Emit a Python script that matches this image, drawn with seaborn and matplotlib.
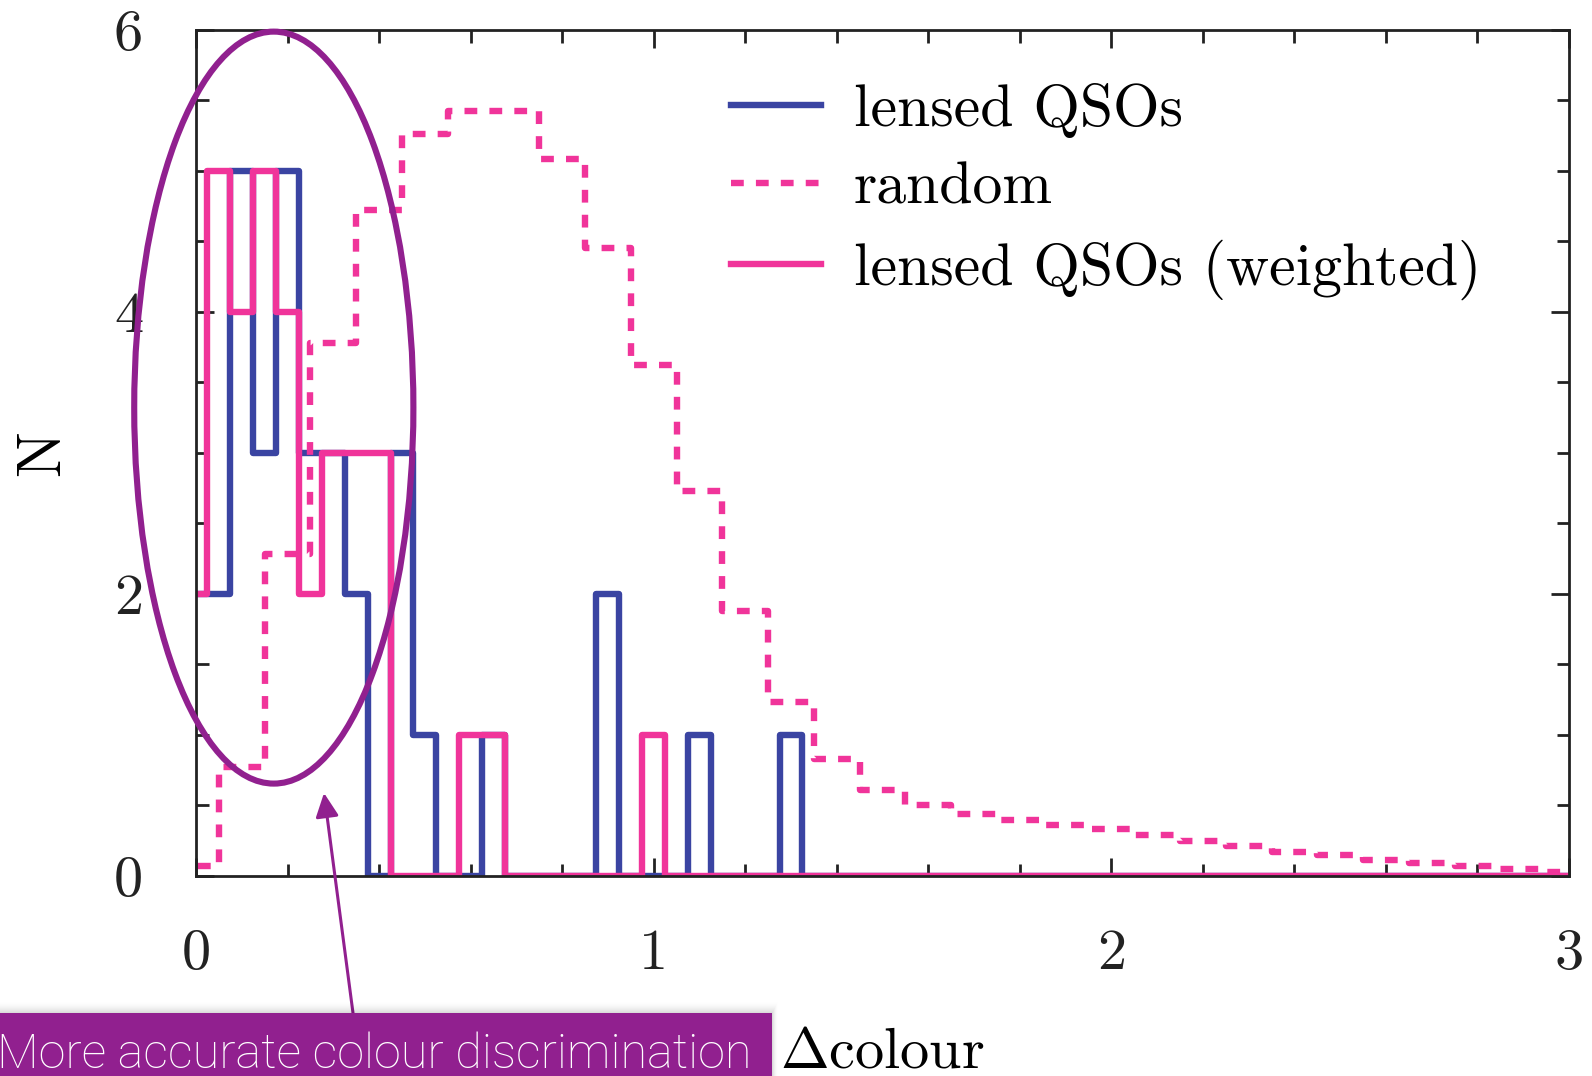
import numpy as np
import pandas as pd
import matplotlib
matplotlib.use("Agg")
import matplotlib.pyplot as plt
from matplotlib.patches import Ellipse, Rectangle
import seaborn as sns

# Histogram values (bin centres and counts)
lensed_centres = [0.00, 0.05, 0.10, 0.15, 0.20, 0.25, 0.30, 0.35, 0.45, 0.50,
                  0.65, 0.90, 1.10, 1.30]
lensed_counts = [2, 2, 5, 3, 5, 3, 3, 2, 3, 1, 1, 2, 1, 1]

weighted_centres = [0.00, 0.05, 0.10, 0.15, 0.20, 0.25, 0.30, 0.35, 0.40,
                    0.60, 0.65, 1.00]
weighted_counts = [2, 5, 4, 5, 4, 2, 3, 3, 3, 1, 1, 1]

random_centres = [0.0, 0.1, 0.2, 0.3, 0.4, 0.5, 0.6, 0.7, 0.8, 0.9, 1.0,
                  1.1, 1.2, 1.3, 1.4, 1.5, 1.6, 1.7, 1.8, 1.9, 2.0,
                  2.1, 2.2, 2.3, 2.4, 2.5, 2.6, 2.7, 2.8, 2.9, 3.0]
random_counts = [0.07, 0.77, 2.28, 3.78, 4.72, 5.26, 5.42, 5.42, 5.08, 4.45, 3.62,
                 2.73, 1.88, 1.23, 0.83, 0.61, 0.50, 0.44, 0.40, 0.36, 0.33,
                 0.29, 0.25, 0.21, 0.17, 0.15, 0.11, 0.09, 0.07, 0.05, 0.03]

labels = ["lensed QSOs", "random", "lensed QSOs (weighted)"]
x_ticks = [0, 1, 2, 3]
y_ticks = [0, 2, 4, 6]

BLUE = "#3A44A2"
PINK = "#F0349A"
PURPLE = "#91208F"

plt.rcParams["font.family"] = "cmr10"
plt.rcParams["mathtext.fontset"] = "cm"
plt.rcParams["axes.formatter.use_mathtext"] = True
plt.rcParams["axes.unicode_minus"] = False

lensed = pd.DataFrame({"dc": lensed_centres, "n": lensed_counts})
weighted = pd.DataFrame({"dc": weighted_centres, "n": weighted_counts})
random_df = pd.DataFrame({"dc": random_centres, "n": random_counts})

W, H = 1592, 1076
fig = plt.figure(figsize=(W / 100, H / 100), dpi=100)
ax = fig.add_axes([196 / W, 1 - 876 / H, (1569 - 196) / W, (876 - 29.5) / H])

lw = 4.6
fine_edges = [round(-0.025 + 0.05 * i, 3) for i in range(62)]
coarse_edges = [round(-0.05 + 0.1 * i, 3) for i in range(32)]

sns.histplot(data=lensed, x="dc", weights="n", bins=fine_edges,
             element="step", fill=False, color=BLUE, linewidth=lw,
             label=labels[0], ax=ax)
sns.histplot(data=random_df, x="dc", weights="n", bins=coarse_edges,
             element="step", fill=False, color=PINK, linewidth=lw,
             linestyle=(0, (2.0, 1.9)), label=labels[1], ax=ax)
sns.histplot(data=weighted, x="dc", weights="n", bins=fine_edges,
             element="step", fill=False, color=PINK, linewidth=lw,
             label=labels[2], ax=ax)

ax.set_xlim(0, 3)
ax.set_ylim(0, 6)
ax.set_xticks(x_ticks, labels=[str(t) for t in x_ticks])
ax.set_yticks(y_ticks, labels=[str(t) for t in y_ticks])
ax.set_xticks(np.arange(0, 3.01, 0.2), minor=True)
ax.set_yticks(np.arange(0, 6.01, 0.5), minor=True)
ax.tick_params(which="both", direction="in", top=True, right=True,
               width=2.0, colors="#222222")
ax.tick_params(which="major", length=13, labelsize=42, pad=38)
ax.tick_params(which="minor", length=9)
for s in ax.spines.values():
    s.set_linewidth(2.0)
    s.set_color("#222222")

ax.set_xlabel(r"$\Delta$colour", fontsize=42, labelpad=34)
ax.set_ylabel("N", fontsize=44, labelpad=31)

leg = ax.legend(loc="upper left", bbox_to_anchor=(0.368, 0.972),
                frameon=False, fontsize=43, handlelength=1.5,
                handletextpad=0.55, labelspacing=0.4, borderpad=0)

# Highlight around the low-Δcolour bins
ell = Ellipse((0.17, 3.32), 0.61, 5.33, fill=False, edgecolor=PURPLE,
              linewidth=4.4, clip_on=False, zorder=5)
ax.add_patch(ell)

# Caption box with a soft shadow, plus arrow
box_w, box_h = 772, H - 1013
for i in range(12):
    a = 0.022 * (12 - i) / 12
    pad = i + 1
    fig.add_artist(Rectangle((0, 0), (box_w + pad * 0.5) / W, (box_h + pad) / H,
                             transform=fig.transFigure, facecolor="black",
                             edgecolor="none", alpha=a, zorder=5.5))
fig.add_artist(Rectangle((0, 0), box_w / W, box_h / H, transform=fig.transFigure,
                         facecolor=PURPLE, edgecolor="none", zorder=6))
fig.text(-3 / W, 8 / H, "More accurate colour discrimination", color="white",
         fontsize=35, family=["Roboto", "DejaVu Sans"], fontweight="light",
         ha="left", va="baseline", zorder=7)
ax.annotate("", xy=(324, H - 793), xycoords="figure pixels",
            xytext=(353, H - 1013), textcoords="figure pixels",
            arrowprops=dict(arrowstyle="-|>,head_length=0.58,head_width=0.28",
                            mutation_scale=25, color=PURPLE, lw=2.2,
                            shrinkA=0, shrinkB=0), zorder=6)

fig.savefig("out.png", dpi=100)
